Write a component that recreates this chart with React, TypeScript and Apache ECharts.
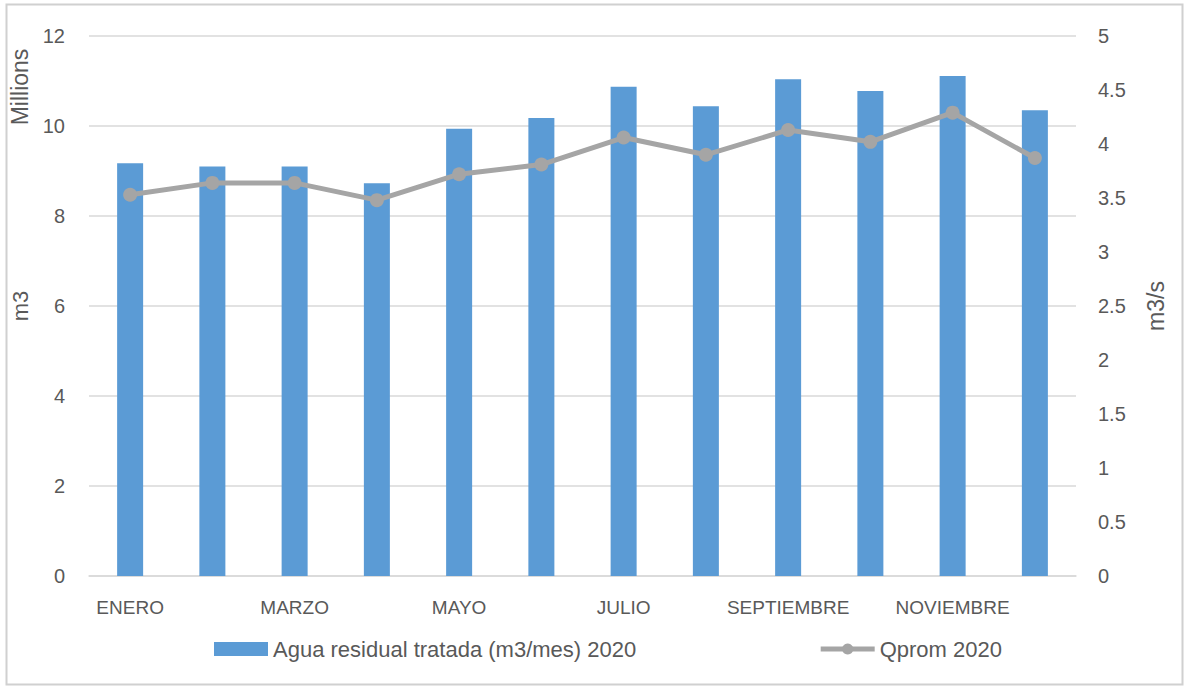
import React, { useEffect, useRef } from "react";
import * as echarts from "echarts";

const categories = ["ENERO", "FEBRERO", "MARZO", "ABRIL", "MAYO", "JUNIO", "JULIO", "AGOSTO", "SEPTIEMBRE", "OCTUBRE", "NOVIEMBRE", "DICIEMBRE"];
const aguaTratada = [9.17, 9.1, 9.1, 8.73, 9.94, 10.18, 10.87, 10.44, 11.04, 10.78, 11.11, 10.35];
const qprom = [3.53, 3.64, 3.64, 3.48, 3.72, 3.81, 4.06, 3.9, 4.13, 4.02, 4.29, 3.87];

const FONT = "Liberation Sans";
const TXT = "#595959";

export default function App() {
  const ref = useRef<HTMLDivElement>(null);
  useEffect(() => {
    const chart = echarts.init(ref.current!, null, { renderer: "svg" });
    chart.setOption({
      animation: false,
      backgroundColor: "#fff",
      textStyle: { fontFamily: FONT, color: TXT },
      graphic: [
        { type: "rect", shape: { x: 6.5, y: 4.5, width: 1176, height: 680 }, style: { fill: "none", stroke: "#d0d0d0", lineWidth: 2 } },
        { type: "text", x: 20, y: 87, rotation: Math.PI / 2, style: { text: "Millions", font: `23px '${FONT}'`, fill: TXT, align: "center", verticalAlign: "middle" } },
      ],
      grid: { left: 89, right: 111, top: 36, bottom: 112 },
      legend: {
        bottom: 23,
        left: 209,
        itemGap: 182,
        itemWidth: 54,
        itemHeight: 14,
        textStyle: { fontFamily: FONT, fontSize: 22, color: TXT },
        data: [
          { name: "Agua residual tratada (m3/mes) 2020", icon: "rect" },
          { name: "Qprom 2020", lineStyle: { width: 5, color: "#a5a5a5" }, itemStyle: { color: "#a5a5a5" } },
        ],
      },
      xAxis: {
        type: "category",
        data: categories,
        axisLine: { lineStyle: { color: "#d9d9d9", width: 1.5 } },
        axisTick: { show: false },
        axisLabel: { interval: 1, color: TXT, fontSize: 19, fontFamily: FONT, margin: 22 },
      },
      yAxis: [
        {
          type: "value",
          min: 0,
          max: 12,
          interval: 2,
          name: "m3",
          nameLocation: "middle",
          nameGap: 52,
          nameTextStyle: { fontSize: 22, color: TXT, fontFamily: FONT },
          axisLabel: { fontSize: 20, color: TXT, fontFamily: FONT, margin: 24 },
          splitLine: { lineStyle: { color: "#d9d9d9", width: 1.5 } },
          axisLine: { show: false },
          axisTick: { show: false },
        },
        {
          type: "value",
          min: 0,
          max: 5,
          interval: 0.5,
          name: "m3/s",
          nameLocation: "middle",
          nameGap: 68,
          nameRotate: 90,
          nameTextStyle: { fontSize: 23, color: TXT, fontFamily: FONT },
          axisLabel: { fontSize: 20, color: TXT, fontFamily: FONT, margin: 22 },
          splitLine: { show: false },
          axisLine: { show: false },
          axisTick: { show: false },
        },
      ],
      series: [
        {
          name: "Agua residual tratada (m3/mes) 2020",
          type: "bar",
          data: aguaTratada,
          barWidth: 26,
          itemStyle: { color: "#5b9bd5" },
          yAxisIndex: 0,
        },
        {
          name: "Qprom 2020",
          type: "line",
          data: qprom,
          yAxisIndex: 1,
          symbol: "circle",
          symbolSize: 14,
          lineStyle: { color: "#a5a5a5", width: 5 },
          itemStyle: { color: "#a5a5a5" },
        },
      ],
    });
    return () => chart.dispose();
  }, []);
  return <div ref={ref} style={{ position: "fixed", left: 0, top: 0, width: 1187, height: 688 }} />;
}
